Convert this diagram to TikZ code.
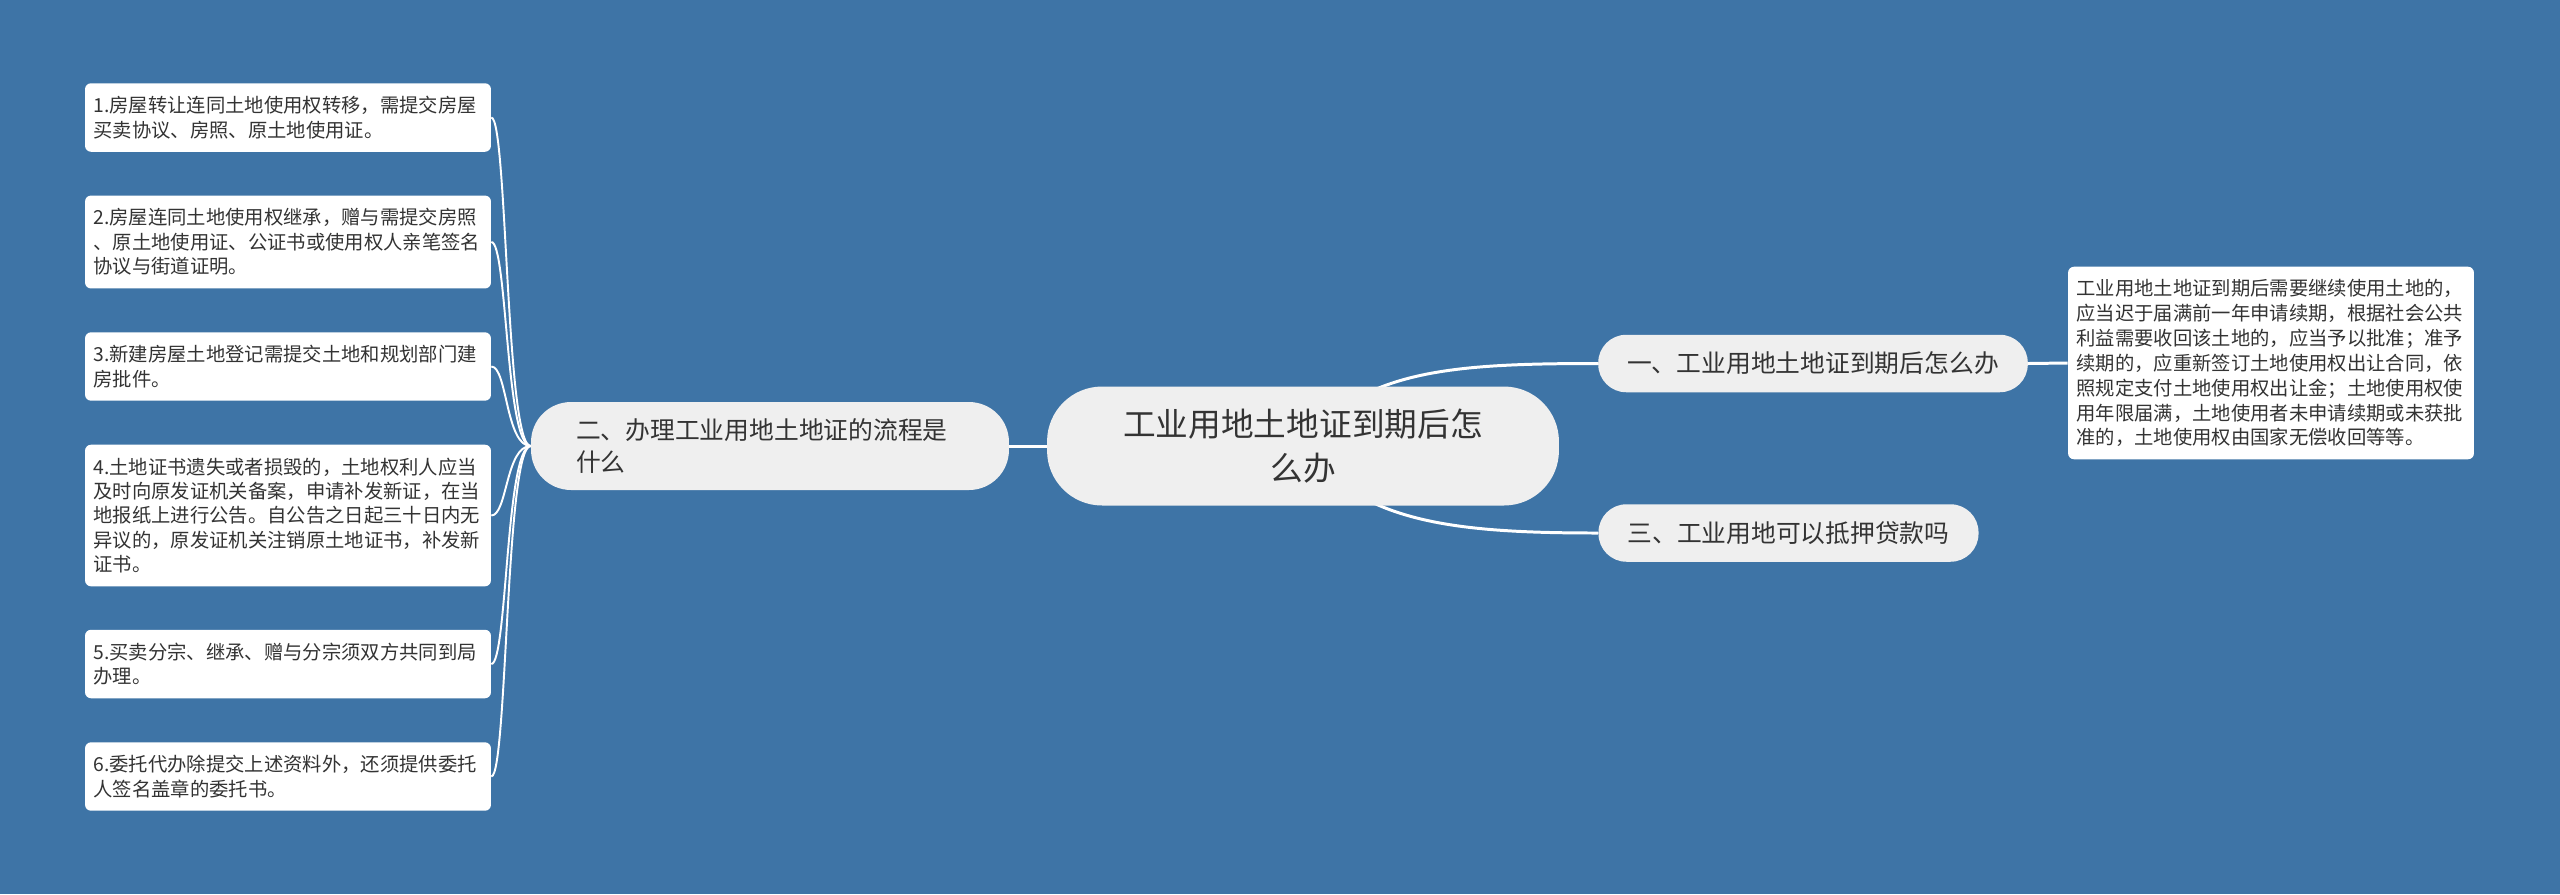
\documentclass[tikz,border=0pt]{standalone}
\usepackage{fontspec}
\setmainfont{Noto Sans CJK SC}
\definecolor{mapBlue}{HTML}{3E74A6}
\definecolor{nodeGray}{HTML}{EFEFEF}
\definecolor{textGray}{HTML}{333333}
\pgfdeclarelayer{back}
\pgfdeclarelayer{edges}
\pgfsetlayers{back,edges,main}

\begin{document}
\begin{tikzpicture}[
    x=0.02cm, y=-0.02cm,
    rootNode/.style={fill=nodeGray, rounded corners=1.1cm, minimum width=10.24cm,
        minimum height=2.38cm, align=center, font=\fontsize{18.6}{25.5}\selectfont},
    branchNode/.style={fill=nodeGray, rounded corners=0.56cm, inner xsep=0.58cm,
        minimum height=1.15cm, font=\fontsize{14.1}{18.5}\selectfont},
    leafNode/.style={fill=white, rounded corners=0.12cm, inner xsep=0.17cm, inner ysep=0.26cm,
        text width=7.78cm, align=left, font=\fontsize{11}{13.9}\selectfont},
    mainLine/.style={draw=white, line width=1.7pt},
    leafLine/.style={draw=white, line width=1.1pt},
    every node/.style={
        text=textGray,
        }
        ]
    \begin{pgfonlayer}{back}
        \fill[mapBlue] (0, 0) rectangle (2560, 894);
    \end{pgfonlayer}

    \node[rootNode] (root) at (1303, 446) {工业用地土地证到期后怎\\么办};

    \node[branchNode] (b1) at (1813, 363.5) {一、工业用地土地证到期后怎么办};
    \node[branchNode, rounded corners=0.8cm, inner xsep=0.9cm, text width=7.76cm,
        align=left, minimum height=1.76cm] (b2) at (770, 446) {二、办理工业用地土地证的流程是\\什么};
    \node[branchNode] (b3) at (1788.5, 533) {三、工业用地可以抵押贷款吗};

    \node[leafNode, inner ysep=0.245cm, font=\fontsize{11}{14.2}\selectfont] (info) at (2271, 363) {工业用地土地证到期后需要继续使用土地的，\\应当迟于届满前一年申请续期，根据社会公共\\利益需要收回该土地的，应当予以批准；准予\\续期的，应重新签订土地使用权出让合同，依\\照规定支付土地使用权出让金；土地使用权使\\用年限届满，土地使用者未申请续期或未获批\\准的，土地使用权由国家无偿收回等等。};

    \node[leafNode] (step1) at (288, 117.5) {1.房屋转让连同土地使用权转移，需提交房屋\\买卖协议、房照、原土地使用证。};
    \node[leafNode] (step2) at (288, 242) {2.房屋连同土地使用权继承，赠与需提交房照\\、原土地使用证、公证书或使用权人亲笔签名\\协议与街道证明。};
    \node[leafNode] (step3) at (288, 366.5) {3.新建房屋土地登记需提交土地和规划部门建\\房批件。};
    \node[leafNode] (step4) at (288, 515.5) {4.土地证书遗失或者损毁的，土地权利人应当\\及时向原发证机关备案，申请补发新证，在当\\地报纸上进行公告。自公告之日起三十日内无\\异议的，原发证机关注销原土地证书，补发新\\证书。};
    \node[leafNode] (step5) at (288, 664) {5.买卖分宗、继承、赠与分宗须双方共同到局\\办理。};
    \node[leafNode] (step6) at (288, 776.5) {6.委托代办除提交上述资料外，还须提供委托\\人签名盖章的委托书。};

    \begin{pgfonlayer}{edges}
        \draw[mainLine] (b2.east) -- (root.west);
        \draw[mainLine] (root.center) .. controls +(57, -76) and +(-147, 0) .. (b1.west);
        \draw[mainLine] (root.center) .. controls +(57, 76) and +(-147, 0) .. (b3.west);
        \draw[mainLine] (b1.east) -- (info.west);
        \foreach \s in {step1, step2, step3, step4, step5, step6}
            \draw[leafLine] (b2.west) .. controls +(-25, 0) and +(16, 0) .. (\s.east);
    \end{pgfonlayer}
\end{tikzpicture}
\end{document}
